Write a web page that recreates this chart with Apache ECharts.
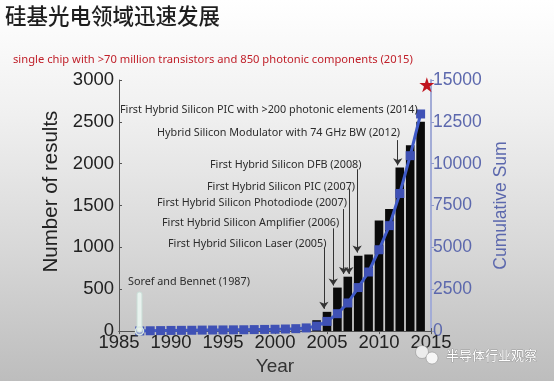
<!DOCTYPE html>
<html><head><meta charset="utf-8"><style>html,body{margin:0;padding:0;background:#c4c4c4}#c{width:554px;height:381px}</style>
<script src="https://cdn.jsdelivr.net/npm/echarts@6/dist/echarts.min.js"></script></head>
<body><div id="c"></div>
<script>
const years=[1987,1988,1989,1990,1991,1992,1993,1994,1995,1996,1997,1998,1999,2000,2001,2002,2003,2004,2005,2006,2007,2008,2009,2010,2011,2012,2013,2014];
const results=[2,2,2,3,3,3,4,4,4,5,5,6,8,10,14,20,45,130,230,520,650,900,915,1320,1460,1955,2220,2500];
const cumulative=[10,20,30,40,45,50,60,65,70,75,80,90,100,110,125,145,190,300,580,1040,1680,2600,3530,4860,6300,8220,10480,12970];
const star=[2014.6,14710];
const xTicks={min:1985,max:2015,interval:5};
const arrows=[[2004.7,996,266],[2005.6,1228,544],[2006.6,1459,683],[2007.1,1703,683],[2007.9,1934,938],[2011.8,2282,1980]];
const notes=[
 ["First Hybrid Silicon PIC with >200 photonic elements (2014)",120,110],
 ["Hybrid Silicon Modulator with 74 GHz BW (2012)",157,133],
 ["First Hybrid Silicon DFB (2008)",210,165],
 ["First Hybrid Silicon PIC (2007)",207,187],
 ["First Hybrid Silicon Photodiode (2007)",157,203],
 ["First Hybrid Silicon Amplifier (2006)",162,223],
 ["First Hybrid Silicon Laser (2005)",168,244],
 ["Soref and Bennet (1987)",128,282]];
const titleText="硅基光电领域迅速发展";
const redText="single chip with >70 million transistors and 850 photonic components (2015)";
const watermark="半导体行业观察";
const sans='"Liberation Sans",Arial,sans-serif';
const blue='#3f51b5', axisBlue='#5c68ad';
const plain=v=>String(v);
const chart=echarts.init(document.getElementById('c'),null,{renderer:'canvas'});
chart.setOption({
 animation:false,
 backgroundColor:new echarts.graphic.LinearGradient(0,0,0,1,[{offset:0,color:'#ffffff'},{offset:0.3,color:'#f0f0f0'},{offset:0.65,color:'#d8d8d8'},{offset:1,color:'#bdbdbd'}]),
 grid:{left:119,right:123,top:80,bottom:42},
 xAxis:[{type:'value',...xTicks,name:'Year',nameLocation:'middle',nameGap:23,
  nameTextStyle:{fontFamily:sans,fontSize:19,color:'#333'},
  axisLine:{show:true,lineStyle:{color:'#555',width:1}},axisTick:{show:true,inside:true,length:3,lineStyle:{color:'#555'}},
  axisLabel:{fontFamily:sans,fontSize:18.5,color:'#222',margin:2,showMinLabel:true,showMaxLabel:true,formatter:plain},splitLine:{show:false}},
  {type:'value',...xTicks,position:'top',
  axisLine:{show:true,lineStyle:{color:'#555',width:1}},axisTick:{show:true,inside:true,length:3,lineStyle:{color:'#555'}},
  axisLabel:{show:false},splitLine:{show:false}}],
 yAxis:[
  {type:'value',min:0,max:3000,interval:500,name:'Number of results',nameLocation:'middle',nameGap:28,
   nameTextStyle:{fontFamily:sans,fontSize:20.5,color:'#222',padding:[0,0,0,28]},
   axisLine:{show:true,lineStyle:{color:'#555'}},axisTick:{show:true,inside:true,length:3,lineStyle:{color:'#555'}},
   axisLabel:{fontFamily:sans,fontSize:18.5,color:'#222',margin:5,formatter:plain},splitLine:{show:false}},
  {type:'value',min:0,max:15000,interval:2500,name:'Cumulative Sum',nameLocation:'middle',nameGap:56,nameRotate:90,
   nameTextStyle:{fontFamily:sans,fontSize:17.5,color:axisBlue},
   axisLine:{show:true,lineStyle:{color:'#a3acd6',width:2}},axisTick:{show:true,inside:false,length:3,lineStyle:{color:'#8f99cc'}},
   axisLabel:{fontFamily:sans,fontSize:17.5,color:axisBlue,margin:2,formatter:plain},splitLine:{show:false}}
 ],
 series:[
  {type:'bar',yAxisIndex:0,barWidth:8.6,data:years.map((y,i)=>[y,results[i]]),itemStyle:{color:'#0a0a0a'},z:2,
   markLine:{silent:true,symbol:['none','arrow'],symbolSize:[7,7],label:{show:false},animation:false,
    lineStyle:{color:'#333',width:1,type:'solid'},emphasis:{disabled:true},
    data:arrows.map(a=>[{coord:[a[0],a[1]]},{coord:[a[0],a[2]]}])}},
  {type:'line',yAxisIndex:1,data:years.map((y,i)=>[y,cumulative[i]]),symbol:'rect',symbolSize:9,showSymbol:true,clip:false,
   lineStyle:{color:'#3f5ac8',width:3},itemStyle:{color:blue},z:3},
  {type:'scatter',yAxisIndex:1,data:[star],clip:false,symbol:'path://M50 0L62 36L100 36L69 58L81 95L50 72L19 95L31 58L0 36L38 36Z',symbolSize:15,itemStyle:{color:'#c0141e',opacity:1},z:5}
 ],
 graphic:[
  {type:'text',left:5,top:5,style:{text:titleText,font:'500 21.5px "Noto Sans CJK SC"',fill:'#1e1e1e'}},
  {type:'text',left:13,top:54,style:{text:redText,font:'11.2px "Noto Sans","Open Sans"',fill:'#c0202a'}},
  ...notes.map(n=>({type:'text',x:n[1],y:n[2],z:10,style:{text:n[0],font:'10.8px "Noto Sans"',fill:'#2c2c2c',textVerticalAlign:'middle'}})),
  {type:'rect',z:10,shape:{x:137,y:292,width:5,height:40,r:2},style:{fill:'#e8f2ee',stroke:'#c9ddd6',lineWidth:1}},
  {type:'circle',z:10,shape:{cx:139.5,cy:331,r:4},style:{fill:'rgba(230,240,236,0.5)',stroke:'#d8e8e2',lineWidth:1.5}},
  {type:'circle',z:20,shape:{cx:422,cy:352,r:6.5},style:{fill:'#ececec',stroke:'#888',lineWidth:0.5}},
  {type:'circle',z:20,shape:{cx:432,cy:358,r:6},style:{fill:'#f6f6f6',stroke:'#888',lineWidth:0.5}},
  {type:'text',x:446,y:349,z:20,style:{text:watermark,font:'13px "Noto Sans CJK SC"',fill:'#ffffff',stroke:'#777',lineWidth:0.5}}
 ]
});
</script></body></html>
